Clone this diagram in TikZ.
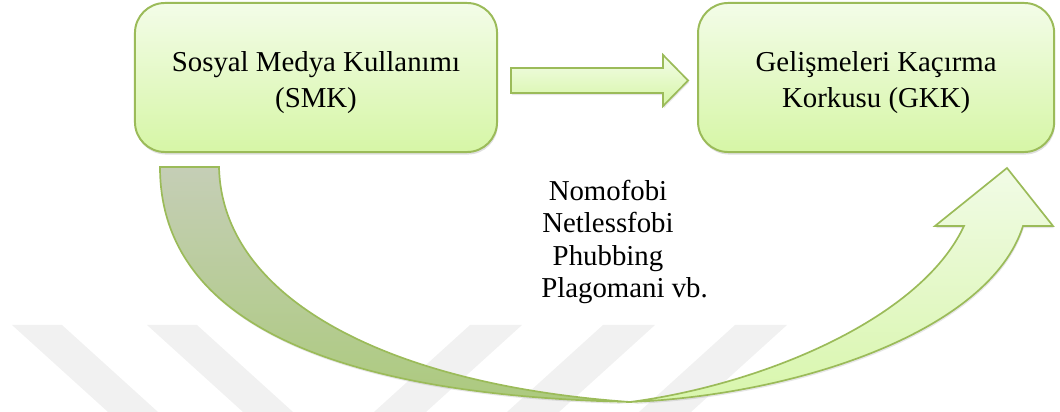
\documentclass[tikz,border=0pt]{standalone}
\usepackage{fontspec}
\setmainfont{Liberation Serif}
\usetikzlibrary{positioning,calc,shadows}
\definecolor{olivebrd}{RGB}{155,187,89}
\definecolor{boxtop}{RGB}{243,252,232}
\definecolor{boxbot}{RGB}{214,246,166}
\definecolor{tailtop}{RGB}{197,206,182}
\definecolor{tailbot}{RGB}{172,202,126}
\definecolor{headtop}{RGB}{241,251,230}
\definecolor{headbot}{RGB}{216,246,172}
\definecolor{wmark}{RGB}{241,241,241}
\tikzset{
  concept/.style={draw=olivebrd,line width=1.4pt,rounded corners=0.75cm,top color=boxtop,bottom color=boxbot,
    minimum height=3.725cm,
    drop shadow={opacity=0.25,shadow xshift=0.6pt,shadow yshift=-1.8pt}},
  boxtxt/.style={align=center,inner sep=0pt,font=\fontsize{20.5}{25.6}\selectfont},
  blkarr/.style={draw=olivebrd,line width=1.2pt,line join=miter,top color=boxtop,bottom color=boxbot,
    drop shadow={opacity=0.2,shadow xshift=0.6pt,shadow yshift=-1.5pt}},
  tailpart/.style={blkarr,top color=tailtop,bottom color=tailbot},
  headpart/.style={blkarr,top color=headtop,bottom color=headbot},
  lbl/.style={font=\fontsize{20.5}{23.2}\selectfont,align=center,inner sep=0pt}
}
\begin{document}
\begin{tikzpicture}[x=0.025cm,y=-0.025cm]
  \useasboundingbox (0,0) rectangle (1060,412);

  % watermark stripes
  \foreach \sx in {12,147}
    \fill[wmark] (\sx,325) -- ++(50,0) -- ++(96,87) -- ++(-50,0) -- cycle;
  \foreach \sx in {470,603,735}
    \fill[wmark] (\sx,325) -- ++(52,0) -- ++(-96,87) -- ++(-52,0) -- cycle;

  \node[concept,minimum width=9.05cm] (smk) at (316,77.5) {};
  \node[concept,minimum width=8.9cm,right=4.975cm of smk] (gkk) {};
  \node[boxtxt] (smktxt) at ($(smk)+(0,5)$) {Sosyal Medya Kullanımı\\(SMK)};
  \node[boxtxt] (gkktxt) at ($(gkk)+(0,5)$) {Gelişmeleri Kaçırma\\Korkusu (GKK)};

  % straight block arrow
  \coordinate (a0) at ($(smk.east)+(13,3)$);
  \coordinate (a1) at ($(gkk.west)+(-9,3)$);
  \draw[blkarr] ($(a0)+(0,-12.5)$) -- ($(a1)+(-25,-12.5)$) -- ++(0,-13) -- (a1)
    -- ++(-25,25.5) -- ++(0,-13) -- ($(a0)+(0,12.5)$) -- cycle;

  % curved block arrow
  \coordinate (tl) at (160,167);
  \coordinate (tr) at (219,167);
  \coordinate (bot) at (630,402);
  \coordinate (hl) at (964,226);
  \coordinate (hr) at (1023,226);
  \coordinate (bl) at (935,226);
  \coordinate (br) at (1053,226);
  \coordinate (tip) at (1007,168);
  \draw[tailpart] (tl) .. controls (160,320) and (330,395) .. (bot)
    .. controls (390,385) and (222,300) .. (tr) -- cycle;
  \draw[headpart] (bot) .. controls (800,395) and (990,330) .. (hr) -- (br) -- (tip) -- (bl)
    -- (hl) .. controls (920,320) and (760,385) .. (bot) -- cycle;

  \node[lbl] (ex) at (608,242) {Nomofobi\\Netlessfobi\\Phubbing\\\hspace*{1.15em}Plagomani vb.};
\end{tikzpicture}
\end{document}
